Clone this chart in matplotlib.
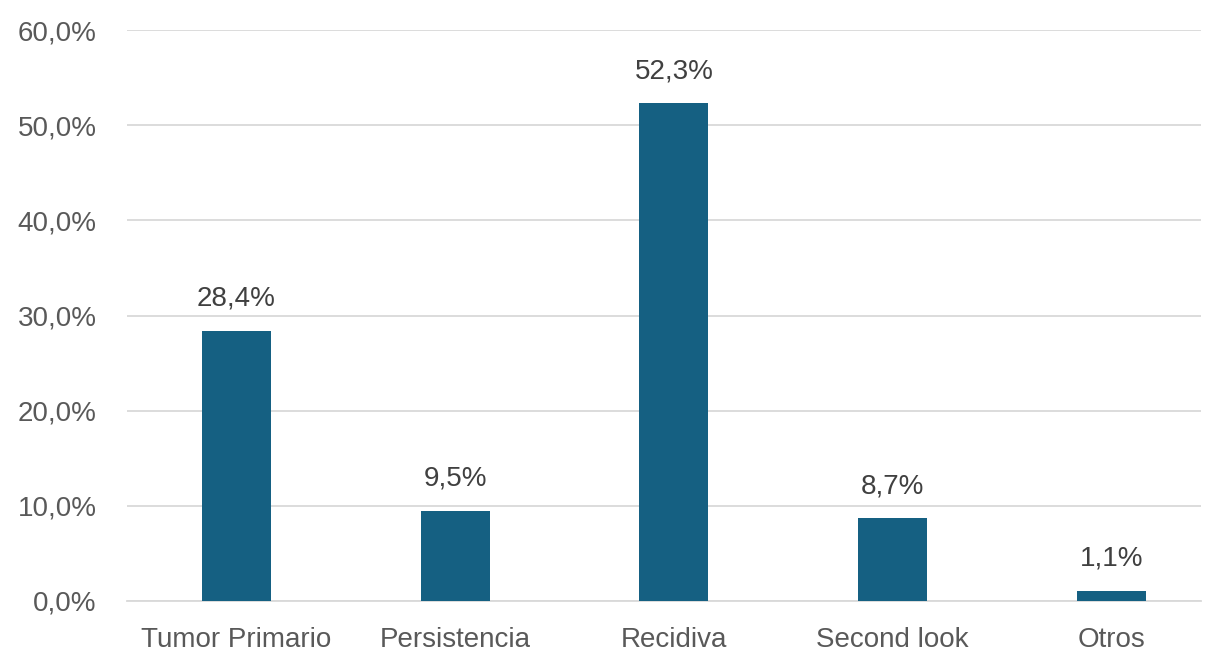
import matplotlib
matplotlib.use("Agg")
import matplotlib.pyplot as plt
from matplotlib.ticker import FuncFormatter

categories = ["Tumor Primario", "Persistencia", "Recidiva", "Second look", "Otros"]
values = [28.4, 9.5, 52.3, 8.7, 1.1]
yticks = [0, 10, 20, 30, 40, 50, 60]

plt.rcParams['font.family'] = ['Liberation Sans', 'DejaVu Sans']

fig = plt.figure(figsize=(12.15, 6.51), dpi=100)
ax = fig.add_axes([127 / 1215, 50 / 651, 1074 / 1215, 571 / 651])

x = range(len(categories))
ax.bar(x, values, width=0.315, color='#156082', zorder=3)
for xi, v in zip(x, values):
    ax.text(xi, v + 2.0, f"{v:.1f}%".replace('.', ','), ha='center', va='bottom',
            fontsize=20, color='#404040')

# category spacing in the reference is ~218.75 px on a 1074 px wide plot
ax.set_xlim(-0.5, -0.5 + 1074 / 218.75)
ax.set_ylim(0, 60)
ax.set_yticks(yticks)
ax.yaxis.set_major_formatter(FuncFormatter(lambda v, p: f"{v:.1f}%".replace('.', ',')))
ax.set_xticks(list(x))
ax.set_xticklabels(categories)
ax.grid(axis='y', color='#d9d9d9', linewidth=1.3, zorder=0)
for s in ['top', 'right', 'left']:
    ax.spines[s].set_visible(False)
ax.spines['bottom'].set_color('#d9d9d9')
ax.spines['bottom'].set_linewidth(1.3)
ax.tick_params(axis='both', length=0, labelsize=20, colors='#595959')
ax.tick_params(axis='y', pad=22)
ax.tick_params(axis='x', pad=19)

fig.savefig('out.png', dpi=100)
